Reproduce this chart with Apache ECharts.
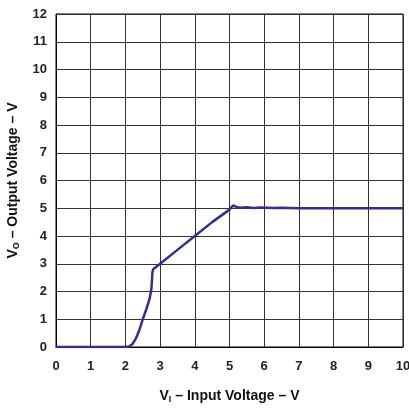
<!DOCTYPE html>
<html>
<head>
<meta charset="utf-8">
<script src="https://cdn.jsdelivr.net/npm/echarts@6/dist/echarts.min.js"></script>
<style>
html,body{margin:0;padding:0;background:#fff;}
#chart{width:409px;height:408px;}
</style>
</head>
<body>
<div id="chart"></div>
<script>
// Input voltage V_I (V)
const inputVoltage = [0, 1.0, 2.0, 2.1, 2.2, 2.3, 2.4, 2.5, 2.6, 2.7, 2.75, 2.78, 2.8, 2.9, 3.0, 3.5, 4.0, 4.5, 5.0, 5.1, 5.2, 5.3, 5.5, 5.7, 5.9, 6.1, 6.3, 6.5, 7.0, 8.0, 9.0, 10.0];
// Output voltage V_O (V)
const outputVoltage = [0, 0, 0, 0.02, 0.1, 0.3, 0.6, 1.0, 1.35, 1.75, 2.1, 2.7, 2.8, 2.9, 3.0, 3.5, 4.0, 4.5, 4.95, 5.1, 5.05, 5.02, 5.04, 5.01, 5.03, 5.02, 5.01, 5.02, 5.0, 5.0, 5.0, 5.0];

const xTitle = '{v|V}{s|I}{v| – Input Voltage – V}';
const yTitle = '{v|V}{s|O}{v| – Output Voltage – V}';

const chart = echarts.init(document.getElementById('chart'), null, {renderer: 'canvas'});
const font = '"Liberation Sans", Arial, Helvetica, sans-serif';
const rich = {
  v: {fontSize: 14, fontWeight: 'bold', fontFamily: font, color: '#111', lineHeight: 16},
  s: {fontSize: 9, fontWeight: 'bold', fontFamily: font, color: '#111', verticalAlign: 'bottom', padding: [5, 0, 0, 0]}
};
chart.setOption({
  animation: false,
  grid: {left: 56, right: 6, top: 14, bottom: 61, show: true, borderColor: '#000', borderWidth: 1,
         containLabel: false, outerBoundsMode: 'none'},
  xAxis: {
    type: 'value', min: 0, max: 10, interval: 1,
    name: xTitle, nameLocation: 'middle', nameGap: 41,
    nameTextStyle: {rich: rich},
    axisLine: {show: true, lineStyle: {color: '#000', width: 1}},
    axisTick: {show: false},
    axisLabel: {margin: 13, fontSize: 13, fontWeight: 'bold', fontFamily: font, color: '#222'},
    splitLine: {show: true, lineStyle: {color: '#333', width: 1}}
  },
  yAxis: {
    type: 'value', min: 0, max: 12, interval: 1,
    name: yTitle, nameLocation: 'middle', nameGap: 35,
    nameTextStyle: {rich: rich},
    axisLine: {show: true, lineStyle: {color: '#000', width: 1}},
    axisTick: {show: false},
    axisLabel: {margin: 9, fontSize: 13, fontWeight: 'bold', fontFamily: font, color: '#222'},
    splitLine: {show: true, lineStyle: {color: '#333', width: 1}}
  },
  series: [{
    type: 'line',
    data: inputVoltage.map((x, i) => [x, outputVoltage[i]]),
    showSymbol: false,
    lineStyle: {color: '#2e3192', width: 2.5},
    clip: true
  }]
});
</script>
</body>
</html>
